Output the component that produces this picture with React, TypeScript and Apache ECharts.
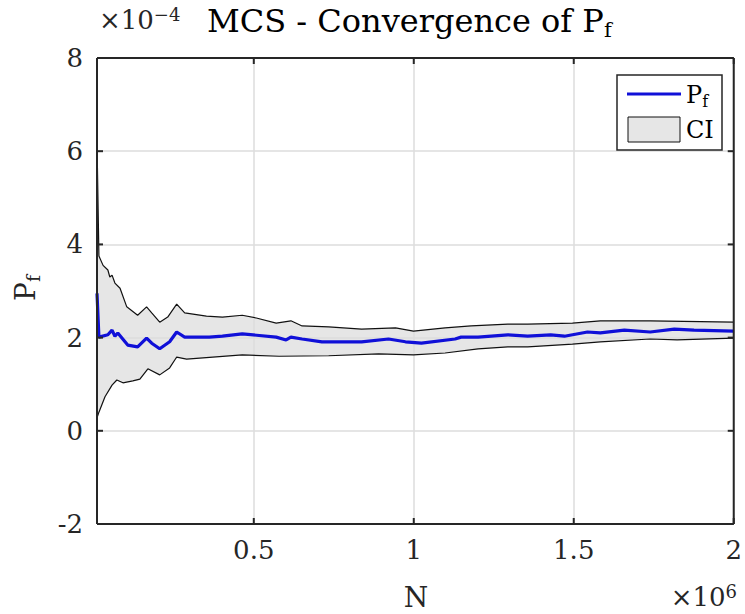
import React, { useEffect, useRef } from "react";
import * as echarts from "echarts";

// Upper confidence bound (units of 1e-4)
const N_UPPER = [10000, 16000, 29000, 44000, 50000, 57000, 66000, 82000, 103000, 113000, 137000, 165000, 181000, 206000, 231000, 259000, 284000, 352000, 402000, 464000, 508000, 570000, 616000, 651000, 734000, 837000, 943000, 999000, 1098000, 1179000, 1294000, 1356000, 1496000, 1583000, 1739000, 2000000];
const CI_UPPER = [6.2, 3.75, 3.55, 3.45, 3.3, 3.34, 3.17, 3.06, 2.66, 2.61, 2.48, 2.66, 2.53, 2.33, 2.44, 2.72, 2.53, 2.46, 2.44, 2.48, 2.42, 2.31, 2.36, 2.25, 2.23, 2.18, 2.21, 2.14, 2.21, 2.25, 2.29, 2.29, 2.31, 2.36, 2.36, 2.33];

// Estimated Pf (units of 1e-4)
const N_MEAN = [10000, 16000, 44000, 57000, 66000, 75000, 106000, 137000, 165000, 181000, 206000, 237000, 259000, 284000, 361000, 402000, 464000, 570000, 601000, 616000, 651000, 713000, 837000, 921000, 974000, 1024000, 1129000, 1148000, 1201000, 1294000, 1356000, 1428000, 1471000, 1543000, 1583000, 1658000, 1739000, 1814000, 1876000, 2000000];
const PF_MEAN = [2.95, 2.01, 2.06, 2.16, 2.03, 2.1, 1.84, 1.8, 1.99, 1.88, 1.76, 1.91, 2.12, 2.01, 2.01, 2.03, 2.08, 2.01, 1.95, 2.01, 1.97, 1.91, 1.91, 1.97, 1.91, 1.88, 1.97, 2.01, 2.01, 2.06, 2.03, 2.06, 2.03, 2.12, 2.1, 2.16, 2.12, 2.18, 2.16, 2.14];

// Lower confidence bound (units of 1e-4)
const N_LOWER = [10000, 16000, 35000, 57000, 72000, 91000, 122000, 144000, 169000, 206000, 237000, 253000, 259000, 290000, 464000, 579000, 734000, 890000, 999000, 1098000, 1201000, 1294000, 1356000, 1496000, 1583000, 1739000, 1823000, 2000000];
const CI_LOWER = [0.28, 0.4, 0.73, 0.98, 1.09, 1.03, 1.07, 1.11, 1.33, 1.2, 1.35, 1.52, 1.58, 1.54, 1.63, 1.6, 1.61, 1.65, 1.63, 1.67, 1.76, 1.8, 1.8, 1.86, 1.91, 1.97, 1.95, 1.99];

const X_MIN = 10000;
const X_MAX = 2000000;
const Y_MIN = -2;
const Y_MAX = 8;
const X_TICKS = [500000, 1000000, 1500000, 2000000];
const Y_TICKS = [-2, 0, 2, 4, 6, 8];

const FONT = "DejaVu Serif";
const AX = "#262626";
const BLUE = "#1010d8";
const GRIDC = "#dcdcdc";

const GRID = { left: 97, right: 8, top: 58, bottom: 90 };
const W = 745;
const H = 614;

export default function App() {
  const ref = useRef<HTMLDivElement>(null);
  useEffect(() => {
    if (!ref.current) return;
    const chart = echarts.init(ref.current, null, { renderer: "svg" });
    const pairs = (xs: number[], ys: number[]) => xs.map((x, i) => [x, ys[i]]);
    const upper = pairs(N_UPPER, CI_UPPER);
    const lower = pairs(N_LOWER, CI_LOWER);
    const mean = pairs(N_MEAN, PF_MEAN);

    chart.setOption({
      animation: false,
      backgroundColor: "#ffffff",
      grid: { ...GRID, containLabel: false },
      xAxis: {
        type: "value",
        min: X_MIN,
        max: X_MAX,
        position: "bottom",
        axisLine: { show: false },
        axisTick: { show: false, customValues: X_TICKS },
        axisLabel: {
          customValues: X_TICKS,
          formatter: (v: number) => String(v / 1e6),
          color: AX,
          fontFamily: FONT,
          fontSize: 26,
          margin: 13,
        },
        splitLine: { show: false },
      },
      yAxis: {
        type: "value",
        min: Y_MIN,
        max: Y_MAX,
        interval: 2,
        position: "left",
        axisLine: { show: false },
        axisTick: { show: false },
        axisLabel: { color: AX, fontFamily: FONT, fontSize: 26, margin: 14 },
        splitLine: { show: false },
      },
      series: [
        {
          type: "custom",
          name: "CI",
          silent: true,
          data: [upper[0]],
          renderItem: (_params: any, api: any) => {
            const pts = upper.map((p) => api.coord(p)).concat(lower.slice().reverse().map((p) => api.coord(p)));
            return { type: "polygon", shape: { points: pts }, style: { fill: "#e6e6e6", stroke: "none" } };
          },
          markLine: {
            silent: true,
            z: 1,
            symbol: ["none", "none"],
            label: { show: false },
            emphasis: { disabled: true },
            lineStyle: { color: GRIDC, width: 1.5, type: "solid" },
            data: [
              ...X_TICKS.map((v) => ({ xAxis: v })),
              ...Y_TICKS.map((v) => ({ yAxis: v })),
            ],
          },
          z: 0,
        },
        {
          type: "line",
          data: upper,
          showSymbol: false,
          lineStyle: { color: "#111", width: 1.2 },
          silent: true,
          z: 2,
        },
        {
          type: "line",
          data: lower,
          showSymbol: false,
          lineStyle: { color: "#111", width: 1.2 },
          silent: true,
          z: 2,
        },
        {
          type: "line",
          name: "Pf",
          data: mean,
          showSymbol: false,
          lineStyle: { color: BLUE, width: 3.2 },
          silent: true,
          z: 3,
        },
      ],
    });

    // Axes box and inward ticks, placed through the chart's own scales
    const gx0 = GRID.left;
    const gx1 = W - GRID.right;
    const gy0 = GRID.top;
    const gy1 = H - GRID.bottom;
    const px = (x: number, y: number): number[] => {
      let r: any = null;
      try {
        r = chart.convertToPixel({ gridIndex: 0 }, [x, y]);
      } catch (e) {
        r = null;
      }
      if (!r || !isFinite(r[0]) || !isFinite(r[1])) {
        r = [
          gx0 + ((x - X_MIN) / (X_MAX - X_MIN)) * (gx1 - gx0),
          gy1 - ((y - Y_MIN) / (Y_MAX - Y_MIN)) * (gy1 - gy0),
        ];
      }
      return r;
    };
    const tl = px(X_MIN, Y_MAX);
    const br = px(X_MAX, Y_MIN);
    const frame: any[] = [
      { type: "line", z: 50, silent: true, shape: { x1: tl[0], y1: tl[1], x2: br[0], y2: tl[1] }, style: { stroke: AX, lineWidth: 2 } },
      { type: "line", z: 50, silent: true, shape: { x1: tl[0], y1: br[1], x2: br[0], y2: br[1] }, style: { stroke: AX, lineWidth: 2 } },
      { type: "line", z: 50, silent: true, shape: { x1: tl[0], y1: tl[1], x2: tl[0], y2: br[1] }, style: { stroke: AX, lineWidth: 2 } },
      { type: "line", z: 50, silent: true, shape: { x1: br[0], y1: tl[1], x2: br[0], y2: br[1] }, style: { stroke: AX, lineWidth: 2 } },
    ];
    X_TICKS.forEach((v) => {
      const xx = px(v, Y_MIN)[0];
      frame.push({ type: "line", z: 50, silent: true, shape: { x1: xx, y1: br[1], x2: xx, y2: br[1] - 6 }, style: { stroke: AX, lineWidth: 2 } });
      frame.push({ type: "line", z: 50, silent: true, shape: { x1: xx, y1: tl[1], x2: xx, y2: tl[1] + 6 }, style: { stroke: AX, lineWidth: 2 } });
    });
    Y_TICKS.forEach((v) => {
      const yy = px(X_MIN, v)[1];
      frame.push({ type: "line", z: 50, silent: true, shape: { x1: tl[0], y1: yy, x2: tl[0] + 6, y2: yy }, style: { stroke: AX, lineWidth: 2 } });
      frame.push({ type: "line", z: 50, silent: true, shape: { x1: br[0], y1: yy, x2: br[0] - 6, y2: yy }, style: { stroke: AX, lineWidth: 2 } });
    });

    chart.setOption({
      graphic: [
        ...frame,
        {
          type: "text",
          x: 207,
          y: 21,
          z: 100,
          style: {
            text: "{b|MCS - Convergence of P}{s|f}",
            align: "left",
            verticalAlign: "middle",
            fill: "#000",
            rich: {
              b: { fontFamily: FONT, fontSize: 32, lineHeight: 38, fill: "#000" },
              s: { fontFamily: FONT, fontSize: 21, lineHeight: 17, verticalAlign: "bottom", fill: "#000" },
            },
          },
        },
        {
          type: "text",
          x: 99,
          y: 20,
          z: 100,
          style: {
            text: "{b|×10}{s|−4}",
            align: "left",
            verticalAlign: "middle",
            rich: {
              b: { fontFamily: FONT, fontSize: 26, lineHeight: 30, fill: AX },
              s: { fontFamily: FONT, fontSize: 18, lineHeight: 14, verticalAlign: "top", fill: AX },
            },
          },
        },
        {
          type: "text",
          x: 416,
          y: 597,
          z: 100,
          style: { text: "N", fontFamily: FONT, fontSize: 28, fill: AX, align: "center", verticalAlign: "middle" },
        },
        {
          type: "text",
          x: 737,
          y: 597,
          z: 100,
          style: {
            text: "{b|×10}{s|6}",
            align: "right",
            verticalAlign: "middle",
            rich: {
              b: { fontFamily: FONT, fontSize: 26, lineHeight: 30, fill: AX },
              s: { fontFamily: FONT, fontSize: 18, lineHeight: 14, verticalAlign: "top", fill: AX },
            },
          },
        },
        {
          type: "text",
          x: 25,
          y: 288,
          rotation: Math.PI / 2,
          z: 100,
          style: {
            text: "{b|P}{s|f}",
            align: "center",
            verticalAlign: "middle",
            rich: {
              b: { fontFamily: FONT, fontSize: 28, lineHeight: 34, fill: AX },
              s: { fontFamily: FONT, fontSize: 19, lineHeight: 16, verticalAlign: "bottom", fill: AX },
            },
          },
        },
        {
          type: "rect",
          z: 100,
          shape: { x: 617, y: 75, width: 105, height: 75 },
          style: { fill: "#ffffff", stroke: AX, lineWidth: 1.5 },
        },
        {
          type: "line",
          z: 101,
          shape: { x1: 627, y1: 94, x2: 681, y2: 94 },
          style: { stroke: BLUE, lineWidth: 3 },
        },
        {
          type: "rect",
          z: 101,
          shape: { x: 628, y: 117, width: 52, height: 25 },
          style: { fill: "#e6e6e6", stroke: "#111", lineWidth: 1 },
        },
        {
          type: "text",
          x: 686,
          y: 95,
          z: 101,
          style: {
            text: "{b|P}{s|f}",
            align: "left",
            verticalAlign: "middle",
            rich: {
              b: { fontFamily: FONT, fontSize: 24, lineHeight: 28, fill: "#000" },
              s: { fontFamily: FONT, fontSize: 16, lineHeight: 13, verticalAlign: "bottom", fill: "#000" },
            },
          },
        },
        {
          type: "text",
          x: 686,
          y: 130,
          z: 101,
          style: { text: "CI", fontFamily: FONT, fontSize: 24, fill: "#000", align: "left", verticalAlign: "middle" },
        },
      ],
    });
    return () => chart.dispose();
  }, []);
  return <div ref={ref} style={{ width: W, height: H, position: "absolute", left: 0, top: 0 }} />;
}
